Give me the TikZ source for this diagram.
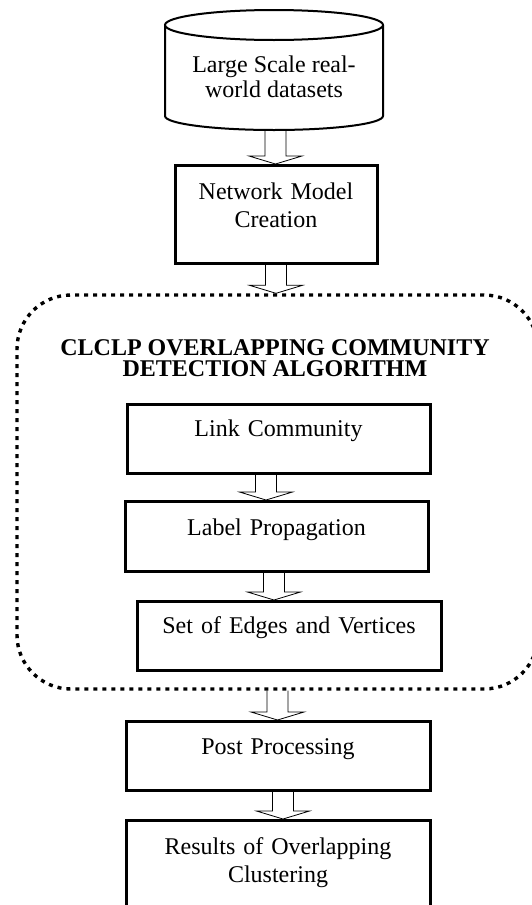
\documentclass[tikz,border=0pt]{standalone}
\usepackage{fontspec}
\setmainfont{Liberation Serif}
\usetikzlibrary{
    calc
}
\tikzset {
    box/.style = {
        draw, line width = 1.5pt, inner sep = 0pt,
        align = center, anchor = north,
        font = \fontsize{12}{14}\selectfont
    },
    plain/.style = {inner sep = 0pt, align = center, anchor = north},
    title/.style = {
        plain,
        font = \fontsize{12}{10.5}\selectfont\bfseries
    },
    group/.style = {
        draw, line width = 1.7pt, inner sep = 0pt,
        dash pattern = on 2pt off 2.5pt,
        rounded corners = 27pt
    },
    store/.style = {line width = 1pt},
    %
    hollow/.style = {
        line width = 1.2pt,
        to path = {
            let \p1 = (\tikztostart), \p2 = (\tikztotarget) in
            (\x1 - 5.25pt, \y1) -- (\x1 - 5.25pt, \y2 + 4pt)
            -- (\x1 - 13.25pt, \y2 + 4pt) -- (\x1, \y2)
            -- (\x1 + 13.25pt, \y2 + 4pt) -- (\x1 + 5.25pt, \y2 + 4pt)
            -- (\x1 + 5.25pt, \y1)
        }
    }
}

\begin{document}
\begin{tikzpicture}[x = 0.5pt, y = -0.5pt]
    \useasboundingbox (0, 0) rectangle (531, 905);

    % data store
    \draw [store] (274, 25) ellipse [x radius = 54.5pt, y radius = 7.5pt];
    \draw [store] (165, 25) -- (165, 116)
        arc [start angle = 180, end angle = 360, x radius = 54.5pt, y radius = 7pt]
        -- (383, 25);
    \node (data) [plain, font = \fontsize{12}{12.5}\selectfont] at (274, 55)
        {Large Scale real-\\world datasets};
    \coordinate (datab) at (275.5, 130);

    \node (net) [box, text width = 101pt, text height = 17pt, text depth = 32pt]
        at (276, 164) {Network Model\\Creation};

    % algorithm group
    \node (algo) [group, minimum width = 260.5pt, minimum height = 197pt]
        at (277.5, 492) {};
    \node (head) [title] at (275, 339)
        {CLCLP OVERLAPPING COMMUNITY\\DETECTION ALGORITHM};

    \node (link) [box, text width = 151.5pt, text height = 16pt, text depth = 18.5pt]
        at (278.5, 403) {Link Community};
    \node (label) [box, text width = 151.5pt, text height = 17pt, text depth = 18pt]
        at (276.5, 500) {Label Propagation};
    \node (set) [box, text width = 152pt, text height = 16pt, text depth = 18.5pt]
        at (289, 600) {Set of Edges and Vertices};

    \node (post) [box, text width = 152pt, text height = 16.5pt, text depth = 18pt]
        at (278, 720) {Post Processing};
    \node (res) [box, text width = 152pt, text height = 17pt, text depth = 31pt]
        at (278, 819) {Results of Overlapping\\Clustering};

    % arrows
    \draw (datab) to [hollow] (net.north);
    \draw (net.south) to [hollow] (algo.north);
    \draw ([xshift = -6.25pt]link.south) to [hollow] (label.north);
    \draw ([xshift = -1.25pt]label.south) to [hollow] (set.north);
    \draw (algo.south) to [hollow] (post.north);
    \draw ([xshift = 2.5pt]post.south) to [hollow] (res.north);
\end{tikzpicture}
\end{document}
